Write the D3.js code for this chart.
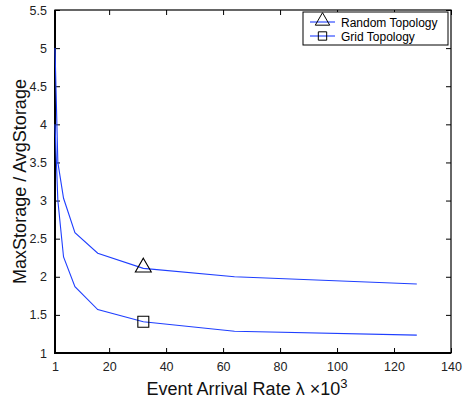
<!DOCTYPE html>
<html>
<head>
<meta charset="utf-8">
<script src="https://cdn.jsdelivr.net/npm/d3@7"></script>
<style>
  body { margin: 0; background: #fff; }
  text { font-family: "Liberation Sans", Arial, sans-serif; }
</style>
</head>
<body>
<svg id="chart" width="466" height="400"></svg>
<script>
// event arrival rate (x 10^3)
var rates = [1, 2, 4, 8, 16, 32, 64, 128];
var randomTopology = [5.0, 3.5, 3.03, 2.58, 2.31, 2.11, 2.0, 1.905];
var gridTopology = [4.0, 3.0, 2.26, 1.87, 1.57, 1.41, 1.285, 1.235];
var seriesNames = ["Random Topology", "Grid Topology"];
var markerAt = 32;

var xTicks = [1, 20, 40, 60, 80, 100, 120, 140];
var yTicks = [1, 1.5, 2, 2.5, 3, 3.5, 4, 4.5, 5, 5.5];

var svg = d3.select("#chart");
var m = {left: 55, right: 451, top: 10, bottom: 353};
var lineColor = "#1f3fff";

var x = d3.scaleLinear().domain([1, 140]).range([m.left, m.right]);
var y = d3.scaleLinear().domain([1, 5.5]).range([m.bottom, m.top]);

var fmt = function(d){ return String(d); };

// ticks on all four sides, pointing inwards (box on)
function tickAxis(axis, transform){
	var g = svg.append("g").attr("transform", transform).call(axis);
	g.select(".domain").remove();
	g.selectAll("line").attr("stroke", "#000");
	return g;
}

var bottomAxis = tickAxis(d3.axisBottom(x).tickValues(xTicks).tickFormat(fmt).tickSizeInner(-5).tickPadding(9),
	"translate(0," + m.bottom + ")");
bottomAxis.selectAll("text").attr("font-size", 12.5).attr("fill", "#222");

tickAxis(d3.axisTop(x).tickValues(xTicks).tickFormat("").tickSizeInner(-5),
	"translate(0," + m.top + ")");

var leftAxis = tickAxis(d3.axisLeft(y).tickValues(yTicks).tickFormat(fmt).tickSizeInner(-5).tickPadding(8),
	"translate(" + m.left + ",0)");
leftAxis.selectAll("text").attr("font-size", 12.5).attr("fill", "#222");

tickAxis(d3.axisRight(y).tickValues(yTicks).tickFormat("").tickSizeInner(-5),
	"translate(" + m.right + ",0)");

// frame
svg.append("rect")
	.attr("x", m.left).attr("y", m.top)
	.attr("width", m.right - m.left).attr("height", m.bottom - m.top)
	.attr("fill", "none").attr("stroke", "#000").attr("stroke-width", 1.2);
svg.append("path")
	.attr("d", "M" + m.left + "," + m.top + "V" + m.bottom + "H" + m.right)
	.attr("fill", "none").attr("stroke", "#000").attr("stroke-width", 2);

var line = d3.line()
	.x(function(d){ return x(d[0]); })
	.y(function(d){ return y(d[1]); });

var series = [randomTopology, gridTopology];
series.forEach(function(vals){
	svg.append("path")
		.datum(rates.map(function(r, i){ return [r, vals[i]]; }))
		.attr("d", line)
		.attr("fill", "none")
		.attr("stroke", lineColor)
		.attr("stroke-width", 1.1);
});

var triangle = d3.symbol().type(d3.symbolTriangle).size(110);
var square = d3.symbol().type(d3.symbolSquare).size(120);

function drawMarker(sym, cx, cy){
	svg.append("path")
		.attr("d", sym())
		.attr("transform", "translate(" + cx + "," + cy + ")")
		.attr("fill", "none")
		.attr("stroke", "#000")
		.attr("stroke-width", 1.1);
}

var mi = rates.indexOf(markerAt);
drawMarker(triangle, x(markerAt), y(randomTopology[mi]) - 1);
drawMarker(square, x(markerAt), y(gridTopology[mi]));

// legend
var lg = svg.append("g").attr("transform", "translate(303,12)");
lg.append("rect")
	.attr("width", 145).attr("height", 33)
	.attr("fill", "#fff").attr("stroke", "#000").attr("stroke-width", 1);
seriesNames.forEach(function(name, i){
	var ly = 10 + i * 14;
	lg.append("line")
		.attr("x1", 7).attr("x2", 32).attr("y1", ly).attr("y2", ly)
		.attr("stroke", lineColor).attr("stroke-width", 1.1);
	lg.append("path")
		.attr("d", d3.symbol().type(i === 0 ? d3.symbolTriangle : d3.symbolSquare).size(i === 0 ? 90 : 70)())
		.attr("transform", "translate(19.5," + (ly - (i === 0 ? 1 : 0)) + ")")
		.attr("fill", "none").attr("stroke", "#000").attr("stroke-width", 1);
	lg.append("text")
		.attr("x", 38).attr("y", ly + 4.5)
		.attr("font-size", 12)
		.attr("fill", "#000")
		.text(name);
});

// axis labels
svg.append("text")
	.attr("transform", "translate(26," + ((m.top + m.bottom) / 2) + ") rotate(-90)")
	.attr("text-anchor", "middle")
	.attr("font-size", 18)
	.attr("fill", "#111")
	.text("MaxStorage / AvgStorage");

var xl = svg.append("text")
	.attr("x", 247).attr("y", 395)
	.attr("text-anchor", "middle")
	.attr("font-size", 18)
	.attr("fill", "#111");
xl.append("tspan").text("Event Arrival Rate \u03bb \u00d710");
xl.append("tspan").attr("dy", -7).attr("font-size", 13).text("3");
</script>
</body>
</html>
